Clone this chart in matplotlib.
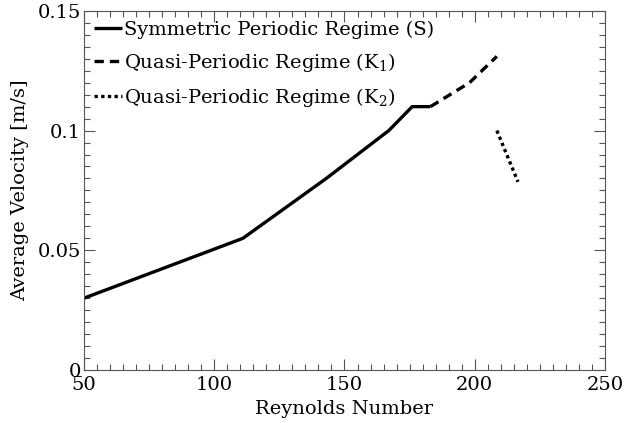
import numpy as np
import matplotlib.pyplot as plt

plt.rcParams['font.family'] = 'DejaVu Serif'
plt.rcParams['mathtext.fontset'] = 'dejavuserif'

# Data
re_s = [50, 111, 143, 167, 176, 183]
vel_s = [0.030, 0.055, 0.080, 0.100, 0.110, 0.110]

re_k1 = [183, 198, 208.5]
vel_k1 = [0.110, 0.120, 0.131]

re_k2 = [208.5, 216.6]
vel_k2 = [0.100, 0.0786]

fig = plt.figure(figsize=(6.33, 4.23), dpi=100)
ax = fig.add_axes([0.1327, 0.1253, 0.823, 0.849])

ax.plot(re_s, vel_s, color='black', lw=2.4, solid_capstyle='butt',
        label='Symmetric Periodic Regime (S)')
ax.plot(re_k1, vel_k1, color='black', lw=2.4, ls=(0, (2.8, 1.8)),
        label='Quasi-Periodic Regime (K$_1$)')
ax.plot(re_k2, vel_k2, color='black', lw=2.4, ls=(0, (1, 1)),
        label='Quasi-Periodic Regime (K$_2$)')

ax.set_xlim(50, 250)
ax.set_ylim(0, 0.15)
ax.set_xticks([50, 100, 150, 200, 250])
ax.set_yticks([0, 0.05, 0.1, 0.15])
ax.set_yticklabels(['0', '0.05', '0.1', '0.15'])
ax.set_xticks(np.arange(50, 251, 5), minor=True)
ax.set_yticks(np.arange(0, 0.1501, 0.005), minor=True)
ax.tick_params(which='both', direction='in', top=True, right=True,
               labelsize=14, color='#555555', width=0.8)
ax.tick_params(which='major', length=8)
ax.tick_params(which='minor', length=4)
ax.tick_params(axis='x', pad=4)
ax.tick_params(axis='y', pad=2)
for s in ax.spines.values():
    s.set_color('#555555')
    s.set_linewidth(0.8)

ax.set_xlabel('Reynolds Number', fontsize=14, labelpad=5)
ax.set_ylabel('Average Velocity [m/s]', fontsize=14, labelpad=6)

ax.legend(loc='upper left', frameon=False, fontsize=14, handlelength=1.45,
          handletextpad=0.1, borderaxespad=0.3, borderpad=0.2,
          labelspacing=0.62)

fig.savefig('out.png', dpi=100)
